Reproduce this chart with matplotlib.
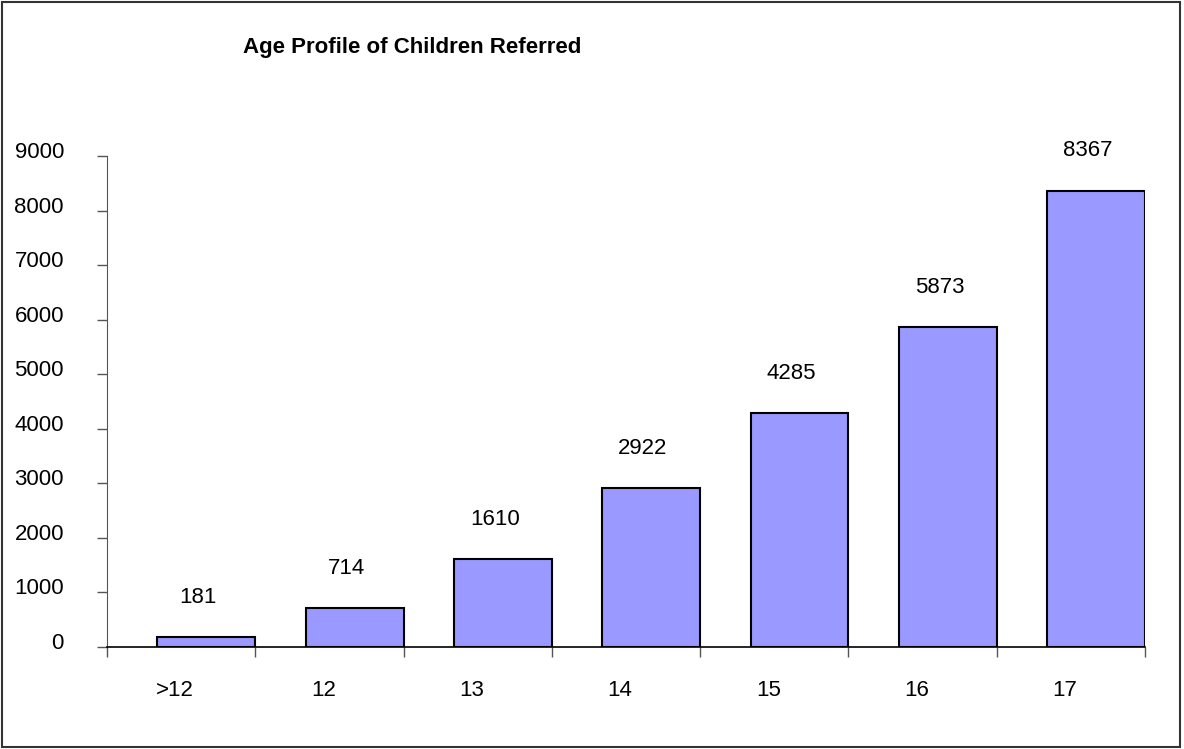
import matplotlib
matplotlib.use('Agg')
import matplotlib.pyplot as plt
from matplotlib.patches import Rectangle
from matplotlib.transforms import ScaledTranslation
import numpy as np

plt.rcParams['font.family'] = ['Liberation Sans', 'DejaVu Sans']

ages = ['>12', '12', '13', '14', '15', '16', '17']
referrals = [181, 714, 1610, 2922, 4285, 5873, 8367]
y_ticks = [0, 1000, 2000, 3000, 4000, 5000, 6000, 7000, 8000, 9000]

fig = plt.figure(figsize=(11.84, 7.49), dpi=100)
ax = fig.add_axes([0.0904, 0.1362, 0.8767, 0.6555])

x = np.arange(len(ages))
bar_w = 0.66
bar_off = 0.5 - bar_w / 2  # bars sit at right side of each category slot
ax.bar(x + bar_off, referrals, width=bar_w, color='#9999FF',
       edgecolor='black', linewidth=1.5, zorder=3)

for xi, v in zip(x, referrals):
    ax.annotate(str(v), (xi + bar_off, v), xytext=(-6, 28.5),
                textcoords='offset points', ha='center', va='center',
                fontsize=16)

ax.set_xlim(-0.5, len(ages) - 0.5)
ax.set_ylim(0, 9000)

# y axis
ax.set_yticks(y_ticks)
ax.set_yticklabels([str(t) for t in y_ticks], fontsize=16)
ax.tick_params(axis='y', direction='out', length=7, width=1, color='#555555',
               pad=24)
shift = ScaledTranslation(0, 6 / 100, fig.dpi_scale_trans)
for lab in ax.get_yticklabels():
    lab.set_transform(lab.get_transform() + shift)

# x axis: labels at slot centres, tick marks at slot boundaries
ax.set_xticks(x - 0.04)
ax.set_xticklabels(ages, fontsize=16)
ax.set_xticks(np.arange(len(ages) + 1) - 0.5, minor=True)
ax.tick_params(axis='x', which='major', length=0, pad=24)
ax.tick_params(axis='x', which='minor', direction='out', length=7,
               width=1, color='#555555')

ax.spines['top'].set_visible(False)
ax.spines['right'].set_visible(False)
ax.spines['left'].set_color('#555555')
ax.spines['bottom'].set_color('black')
ax.spines['bottom'].set_linewidth(1.2)

fig.text(0.348, 1 - 48 / 749, 'Age Profile of Children Referred',
         ha='center', va='center', fontsize=16, fontweight='bold')

fig.patches.append(Rectangle((0.002, 0.003), 0.995, 0.994,
                             transform=fig.transFigure, fill=False,
                             edgecolor='#333333', linewidth=1.5))

fig.savefig('out.png', dpi=100)
plt.close(fig)
